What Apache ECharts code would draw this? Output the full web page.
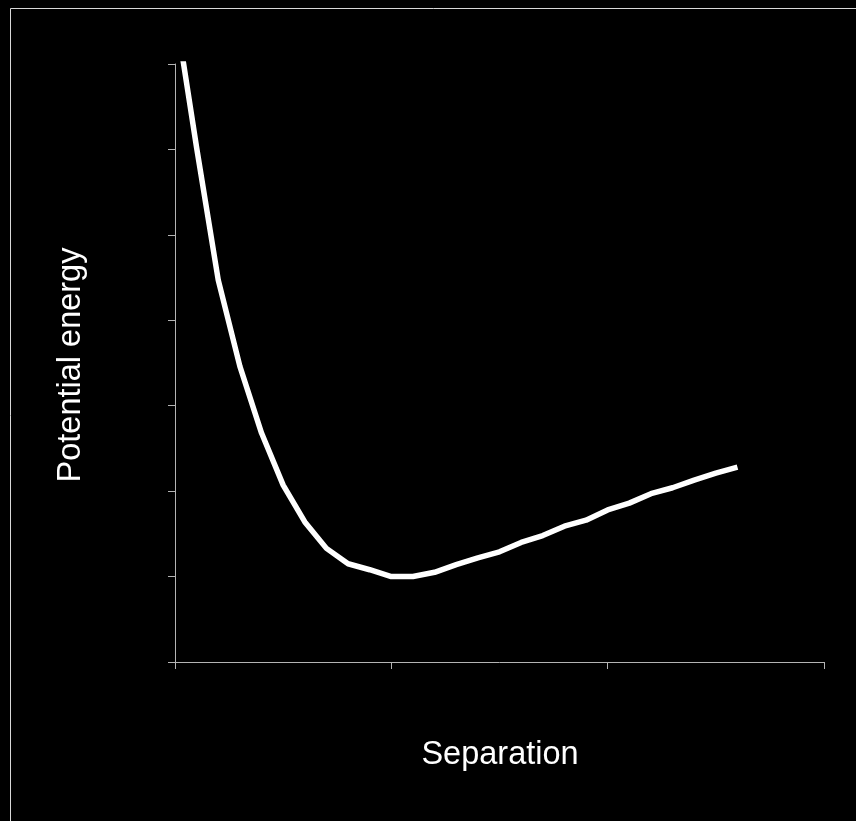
<!DOCTYPE html>
<html>
<head>
<meta charset="utf-8">
<script src="https://cdn.jsdelivr.net/npm/echarts@6/dist/echarts.min.js"></script>
<style>
html,body{margin:0;padding:0;background:#000;}
#chart{width:856px;height:821px;}
</style>
</head>
<body>
<div id="chart"></div>
<script>
// Separation values (x) and potential energy values (y)
const separation = [0, 0.1, 0.2, 0.3, 0.4, 0.5, 0.6, 0.7, 0.8, 0.9, 1.0, 1.1, 1.2, 1.3, 1.4, 1.5, 1.6, 1.7, 1.8, 1.9, 2.0, 2.1, 2.2, 2.3, 2.4, 2.5, 2.6];
const potentialEnergy = [7.65, 6.02, 4.47, 3.46, 2.68, 2.07, 1.64, 1.33, 1.15, 1.08, 1.0, 1.0, 1.05, 1.14, 1.22, 1.29, 1.40, 1.48, 1.59, 1.66, 1.78, 1.86, 1.97, 2.04, 2.13, 2.21, 2.28];
const xAxisTitle = 'Separation';
const yAxisTitle = 'Potential energy';

const points = separation.map((x, i) => [x, potentialEnergy[i]]);

const chart = echarts.init(document.getElementById('chart'), null, {renderer: 'canvas'});
const axisColor = '#b4b4b4';
const titleFont = '32.5px "Liberation Sans", Arial, sans-serif';
chart.setOption({
  backgroundColor: '#000',
  animation: false,
  grid: {left: 175, right: 32, top: 64, bottom: 159, containLabel: false},
  xAxis: {
    type: 'value', min: 0, max: 3, interval: 1,
    axisLine: {show: true, lineStyle: {color: axisColor, width: 1}},
    axisTick: {show: true, inside: false, length: 7, lineStyle: {color: axisColor}},
    axisLabel: {show: false},
    splitLine: {show: false}
  },
  yAxis: {
    type: 'value', min: 0, max: 7, interval: 1,
    axisLine: {show: true, lineStyle: {color: axisColor, width: 1}},
    axisTick: {show: true, inside: false, length: 7, lineStyle: {color: axisColor}},
    axisLabel: {show: false},
    splitLine: {show: false}
  },
  graphic: [
    {type: 'rect', shape: {x: 10.5, y: 8.5, width: 900, height: 900}, style: {fill: null, stroke: '#d8d8d8', lineWidth: 1}, silent: true},
    {type: 'text', x: 500, y: 755, style: {text: xAxisTitle, fill: '#fff', font: titleFont, align: 'center', verticalAlign: 'middle'}},
    {type: 'text', x: 71, y: 365, rotation: Math.PI / 2, style: {text: yAxisTitle, fill: '#fff', font: titleFont, align: 'center', verticalAlign: 'middle'}}
  ],
  series: [{
    type: 'line',
    data: points,
    showSymbol: false,
    clip: true,
    smooth: false,
    lineStyle: {color: '#fff', width: 5.5, cap: 'butt', join: 'round'}
  }]
});
</script>
</body>
</html>
